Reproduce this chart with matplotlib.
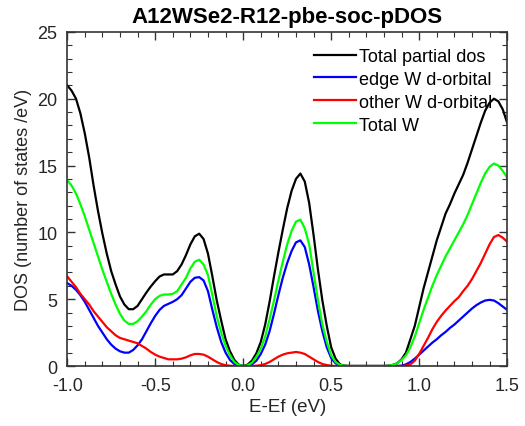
import numpy as np
import matplotlib
matplotlib.use("Agg")
from matplotlib import pyplot as plt
from matplotlib.ticker import MultipleLocator

# energi (eV) dari -1.0 sampai 1.5, tiap 0.025
energy = np.round(np.arange(-1.0, 1.5001, 0.025), 3)

total_dos = [21.0, 20.6, 20.0, 18.9, 17.4, 15.6, 13.5, 11.6, 9.9, 8.4,
             7.1, 6.1, 5.2, 4.6, 4.25, 4.25, 4.5, 5.0, 5.5, 5.95,
             6.35, 6.7, 6.85, 6.85, 6.85, 7.1, 7.6, 8.3, 9.1, 9.7,
             9.9, 9.5, 8.4, 6.7, 4.9, 3.4, 2.0, 1.1, 0.45, 0.1,
             0.0, 0.1, 0.4, 0.95, 1.8, 3.1, 4.8, 6.7, 8.5, 10.2,
             11.8, 13.1, 14.0, 14.4, 13.8, 12.2, 9.8, 7.2, 4.9, 3.0,
             1.4, 0.55, 0.12, 0.03, 0.0, 0.0, 0.0, 0.0, 0.0, 0.0,
             0.0, 0.0, 0.0, 0.02, 0.08, 0.2, 0.5, 1.0, 2.0, 3.0,
             4.4, 5.8, 7.0, 8.2, 9.4, 10.4, 11.4, 12.1, 12.9, 13.6,
             14.3, 15.2, 16.2, 17.2, 18.2, 19.1, 19.7, 20.0, 19.8, 19.2,
             18.2]

edge_w = [6.2, 6.0, 5.7, 5.3, 4.8, 4.2, 3.6, 3.0, 2.5, 2.0,
          1.6, 1.3, 1.1, 1.0, 1.0, 1.2, 1.55, 2.0, 2.6, 3.2,
          3.75, 4.2, 4.5, 4.65, 4.8, 5.0, 5.3, 5.8, 6.3, 6.6,
          6.65, 6.4, 5.6, 4.2, 2.9, 1.8, 1.0, 0.45, 0.15, 0.03,
          0.0, 0.03, 0.12, 0.4, 0.9, 1.6, 2.6, 3.9, 5.3, 6.6,
          7.7, 8.6, 9.25, 9.4, 8.9, 7.6, 5.9, 4.1, 2.6, 1.4,
          0.6, 0.2, 0.05, 0.0, 0.0, 0.0, 0.0, 0.0, 0.0, 0.0,
          0.0, 0.0, 0.0, 0.0, 0.0, 0.0, 0.03, 0.12, 0.3, 0.55,
          0.85, 1.15, 1.45, 1.75, 2.0, 2.3, 2.55, 2.85, 3.1, 3.4,
          3.7, 4.0, 4.3, 4.55, 4.75, 4.9, 4.95, 4.9, 4.7, 4.45,
          4.2]

other_w = [6.7, 6.3, 5.9, 5.4, 5.0, 4.6, 4.1, 3.7, 3.3, 2.9,
           2.6, 2.3, 2.1, 2.0, 1.9, 1.8, 1.7, 1.5, 1.3, 1.05,
           0.85, 0.7, 0.6, 0.5, 0.5, 0.5, 0.55, 0.65, 0.8, 0.9,
           0.9, 0.85, 0.7, 0.5, 0.3, 0.15, 0.06, 0.02, 0.0, 0.0,
           0.0, 0.0, 0.0, 0.02, 0.06, 0.15, 0.3, 0.5, 0.7, 0.85,
           0.95, 1.0, 1.05, 1.0, 0.9, 0.7, 0.5, 0.3, 0.15, 0.07,
           0.02, 0.0, 0.0, 0.0, 0.0, 0.0, 0.0, 0.0, 0.0, 0.0,
           0.0, 0.0, 0.0, 0.0, 0.0, 0.0, 0.0, 0.03, 0.12, 0.4,
           0.9, 1.5, 2.1, 2.75, 3.3, 3.75, 4.15, 4.5, 4.85, 5.15,
           5.6, 6.0, 6.5, 7.1, 7.7, 8.4, 9.1, 9.65, 9.8, 9.6,
           9.3]

total_w = [13.9, 13.5, 12.9, 12.1, 11.2, 10.2, 9.2, 8.2, 7.2, 6.3,
           5.4, 4.6, 3.9, 3.4, 3.15, 3.15, 3.35, 3.7, 4.1, 4.6,
           5.0, 5.25, 5.35, 5.35, 5.4, 5.6, 6.1, 6.6, 7.3, 7.8,
           7.95, 7.6, 6.8, 5.3, 3.7, 2.5, 1.5, 0.8, 0.3, 0.07,
           0.0, 0.05, 0.25, 0.7, 1.3, 2.2, 3.5, 4.9, 6.4, 7.8,
           9.1, 10.1, 10.8, 10.95, 10.3, 9.1, 7.0, 4.9, 3.1, 1.8,
           0.8, 0.3, 0.08, 0.02, 0.0, 0.0, 0.0, 0.0, 0.0, 0.0,
           0.0, 0.0, 0.0, 0.02, 0.08, 0.2, 0.45, 0.8, 1.4, 2.2,
           3.2, 4.2, 5.1, 6.0, 6.8, 7.5, 8.2, 8.8, 9.4, 10.0,
           10.6, 11.3, 12.1, 12.9, 13.7, 14.4, 14.9, 15.15, 15.0, 14.6,
           14.1]

plt.rcParams['font.family'] = ['Liberation Sans', 'DejaVu Sans']
plt.rcParams['axes.unicode_minus'] = False

fig = plt.figure(figsize=(5.25, 4.27), dpi=100)
ax = fig.add_axes([0.128, 0.1405, 0.838, 0.7825])

ax.plot(energy, total_dos, color='black', lw=1.6, label='Total partial dos')
ax.plot(energy, edge_w, color='#0000ff', lw=1.6, label='edge W d-orbital')
ax.plot(energy, other_w, color='#ff0000', lw=1.6, label='other W d-orbital')
ax.plot(energy, total_w, color='#00ff00', lw=1.6, label='Total W')

ax.set_xlim(-1.0, 1.5)
ax.set_ylim(0, 25)
ax.xaxis.set_major_locator(MultipleLocator(0.5))
ax.xaxis.set_minor_locator(MultipleLocator(0.1))
ax.yaxis.set_major_locator(MultipleLocator(5))
ax.yaxis.set_minor_locator(MultipleLocator(1))
ax.xaxis.set_major_formatter(plt.FormatStrFormatter('%.1f'))
ax.tick_params(which='both', direction='in', top=True, right=True,
               labelsize=13, colors='#333333', labelcolor='#262626')
ax.tick_params(axis='x', which='major', pad=8)
ax.tick_params(axis='y', which='major', pad=7)
ax.tick_params(which='major', length=6, width=1)
ax.tick_params(which='minor', length=3.5, width=0.8)
for s in ax.spines.values():
    s.set_linewidth(1.2)
    s.set_color('#333333')

ax.set_xlabel('E-Ef (eV)', fontsize=13.5, color='#262626', labelpad=3)
ax.set_ylabel('DOS (number of states /eV)', fontsize=13, color='#262626', labelpad=4)
ax.set_title('A12WSe2-R12-pbe-soc-pDOS', fontsize=16, fontweight='bold', pad=7)

ax.legend(loc='upper right', frameon=False, fontsize=13, handlelength=2.3,
          handletextpad=0.17, labelspacing=0.33, borderaxespad=0.3,
          bbox_to_anchor=(0.995, 0.99))

fig.savefig('out.png', dpi=100)
